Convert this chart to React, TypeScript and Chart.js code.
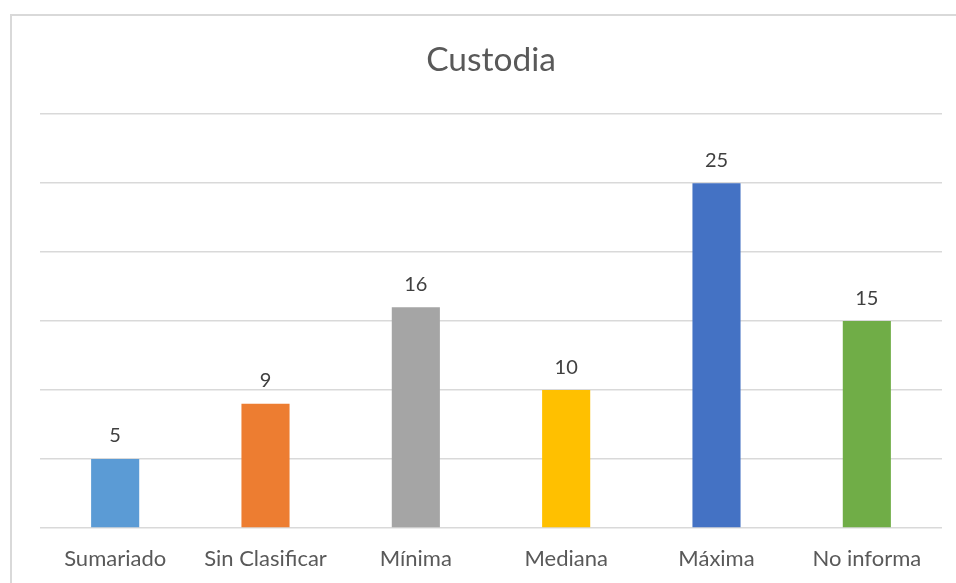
import React, { useEffect, useRef } from "react";
import { Chart, registerables } from "chart.js";

Chart.register(...registerables);

const categories = ["Sumariado", "Sin Clasificar", "Mínima", "Mediana", "Máxima", "No informa"];
const values = [5, 9, 16, 10, 25, 15];
const barColors = ["#5B9BD5", "#ED7D31", "#A5A5A5", "#FFC000", "#4472C4", "#70AD47"];
const titleText = "Custodia";

const FONT = "Lato, 'Open Sans', sans-serif";

const framePlugin = {
  id: "frame",
  beforeDraw(chart: any) {
    const ctx = chart.ctx;
    ctx.save();
    ctx.fillStyle = "#ffffff";
    ctx.fillRect(0, 0, chart.width, chart.height);
    ctx.strokeStyle = "#d9d9d9";
    ctx.lineWidth = 2;
    ctx.strokeRect(11, 15, 1200, 1200);
    ctx.restore();
  },
};

const labelPlugin = {
  id: "valueLabels",
  afterDatasetsDraw(chart: any) {
    const ctx = chart.ctx;
    const meta = chart.getDatasetMeta(0);
    ctx.save();
    ctx.fillStyle = "#404040";
    ctx.font = `20px ${FONT}`;
    ctx.textAlign = "center";
    ctx.textBaseline = "bottom";
    meta.data.forEach((bar: any, i: number) => {
      ctx.fillText(String(values[i]), bar.x, bar.y - 13);
    });
    ctx.restore();
  },
};

export default function App() {
  const ref = useRef<HTMLCanvasElement>(null);
  useEffect(() => {
    if (!ref.current) return;
    const chart = new Chart(ref.current, {
      type: "bar",
      data: {
        labels: categories,
        datasets: [
          {
            data: values,
            backgroundColor: barColors,
            barPercentage: 0.64,
            categoryPercentage: 0.5,
          },
        ],
      },
      options: {
        responsive: false,
        animation: false,
        layout: { padding: { left: 40, right: 14, top: 0, bottom: 0 } },
        plugins: {
          legend: { display: false },
          tooltip: { enabled: false },
          title: {
            display: true,
            text: titleText,
            color: "#595959",
            font: { family: FONT, size: 33.5, weight: "normal" as any, lineHeight: 1.2 },
            padding: { top: 40, bottom: 34 },
          },
        },
        scales: {
          x: {
            grid: { display: false, drawTicks: false },
            border: { display: false },
            ticks: {
              color: "#595959",
              font: { family: FONT, size: 22 },
              padding: 18,
              maxRotation: 0,
              autoSkip: false,
            },
            afterFit(scale: any) {
              scale.height = 55;
            },
          },
          y: {
            min: 0,
            max: 30,
            ticks: { stepSize: 5, display: false },
            grid: { color: "#d9d9d9", lineWidth: 1.5, drawTicks: false },
            border: { display: false },
            afterFit(scale: any) {
              scale.width = 0;
            },
          },
        },
      },
      plugins: [framePlugin, labelPlugin],
    });
    return () => chart.destroy();
  }, []);
  return (
    <canvas
      ref={ref}
      width={956}
      height={583}
      style={{ position: "fixed", left: 0, top: 0, width: 956, height: 583 }}
    />
  );
}
